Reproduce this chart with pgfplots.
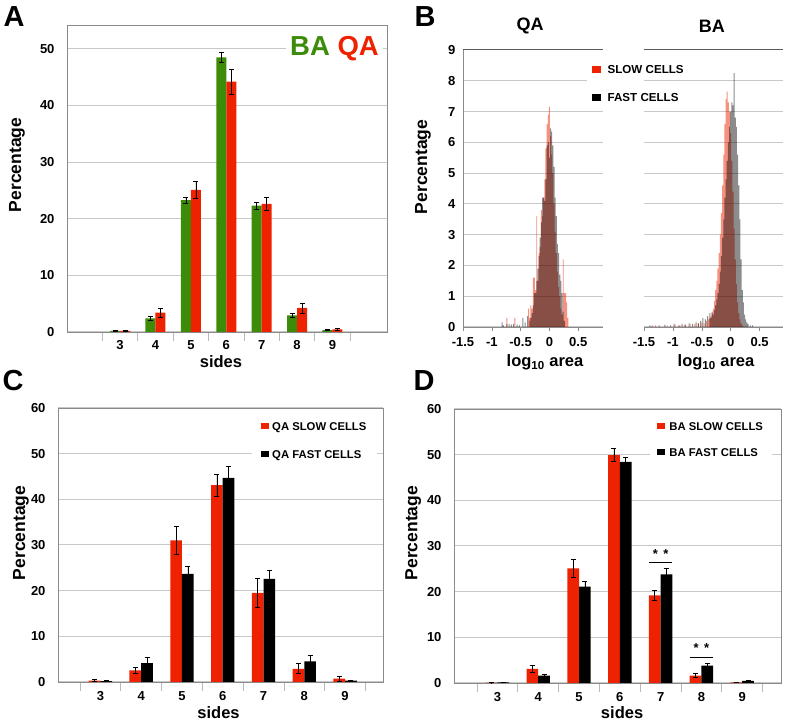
\documentclass[border=0pt]{standalone}
\usepackage{pgfplots}
\usepackage{pgfplotstable}
\usepackage{fontspec}
\pgfplotsset{compat=1.18}
\setmainfont{Liberation Sans}
\definecolor{BarRed}{HTML}{EE2200}
\definecolor{BarGreen}{HTML}{3C8C0A}
\definecolor{GridGray}{HTML}{C8C8C8}
\definecolor{FrameGray}{HTML}{8A8A8A}
\definecolor{TopGray}{HTML}{5A5A5A}
\newcommand{\fs}[1]{\fontsize{#1}{#1}\selectfont\bfseries}

% A: polygon sides, BA vs QA
\pgfplotstableread{
side ba baerr qa qaerr
3 0.20 0.05 0.20 0.05
4 2.40 0.30 3.40 0.80
5 23.3 0.55 25.1 1.45
6 48.5 0.95 44.2 2.20
7 22.3 0.60 22.6 1.20
8 2.95 0.30 4.25 0.90
9 0.35 0.10 0.47 0.20
}\sidesA
% C: QA slow / fast
\pgfplotstableread{
side slow slowerr fast fasterr
3 0.30 0.20 0.20 0.15
4 2.55 0.60 4.15 1.30
5 31.0 3.00 23.7 1.65
6 43.1 2.40 44.7 2.45
7 19.5 3.20 22.6 1.75
8 2.90 1.10 4.50 1.25
9 0.75 0.60 0.30 0.10
}\sidesC
% D: BA slow / fast
\pgfplotstableread{
side slow slowerr fast fasterr
3 0.10 0.05 0.15 0.05
4 3.10 0.70 1.60 0.40
5 25.1 1.90 21.1 1.20
6 49.9 1.45 48.4 1.10
7 19.2 1.15 23.8 1.35
8 1.60 0.45 3.80 0.55
9 0.15 0.05 0.45 0.15
}\sidesD
% B: log10 area histograms
\pgfplotstableread{
x y
-0.74 0.30
-0.60 0.30
-0.36 0.60
-0.34 0.30
-0.32 0.70
-0.30 0.60
-0.28 1.60
-0.26 1.60
-0.24 1.20
-0.22 3.60
-0.20 1.50
-0.18 2.40
-0.16 2.60
-0.14 3.80
-0.12 3.60
-0.10 4.20
-0.08 4.80
-0.06 5.80
-0.04 6.60
-0.02 6.90
0.00 7.15
0.02 6.20
0.04 5.60
0.06 5.00
0.08 4.00
0.10 3.10
0.12 2.40
0.14 1.80
0.16 1.30
0.18 1.00
0.20 0.60
0.22 0.40
0.24 2.20
0.26 1.10
0.28 1.10
0.30 0.80
0.32 0.30
}\qaslow
\pgfplotstableread{
x y
-0.82 0.15
-0.80 0.05
-0.74 0.10
-0.70 0.10
-0.66 0.08
-0.62 0.10
-0.56 0.08
-0.52 0.05
-0.46 0.30
-0.42 0.15
-0.38 0.35
-0.34 0.20
-0.32 0.30
-0.30 0.45
-0.28 0.70
-0.26 1.10
-0.24 1.10
-0.22 1.50
-0.20 1.90
-0.18 2.30
-0.16 2.90
-0.14 3.40
-0.12 4.20
-0.10 4.20
-0.08 4.10
-0.06 4.80
-0.04 5.90
-0.02 6.00
0.00 5.50
0.02 6.45
0.04 6.35
0.06 5.90
0.08 5.20
0.10 4.20
0.12 3.60
0.14 2.70
0.16 2.40
0.18 1.70
0.20 1.50
0.22 1.10
0.24 0.50
0.26 0.20
}\qafast
\pgfplotstableread{
x y
-1.30 0.05
-1.10 0.05
-0.96 0.08
-0.90 0.05
-0.80 0.08
-0.70 0.10
-0.62 0.10
-0.56 0.12
-0.50 0.15
-0.46 0.12
-0.42 0.20
-0.38 0.25
-0.36 0.30
-0.34 0.35
-0.32 0.45
-0.30 0.60
-0.28 0.85
-0.26 1.20
-0.24 1.50
-0.22 1.90
-0.20 2.40
-0.18 3.00
-0.16 3.70
-0.14 4.60
-0.12 5.60
-0.10 6.60
-0.08 7.40
-0.06 7.65
-0.04 7.30
-0.02 7.00
0.00 6.30
0.02 5.40
0.04 4.40
0.06 3.20
0.08 2.20
0.10 1.40
0.12 0.80
0.14 0.45
0.16 0.25
0.18 0.12
0.20 0.05
}\baslow
\pgfplotstableread{
x y
-1.40 0.05
-1.36 0.05
-1.24 0.05
-1.14 0.08
-1.04 0.05
-0.98 0.10
-0.88 0.05
-0.84 0.10
-0.78 0.08
-0.72 0.12
-0.66 0.10
-0.60 0.15
-0.56 0.12
-0.52 0.20
-0.48 0.30
-0.44 0.25
-0.40 0.35
-0.36 0.45
-0.34 0.30
-0.32 0.50
-0.30 0.40
-0.28 0.55
-0.26 0.70
-0.24 0.90
-0.22 1.10
-0.20 1.40
-0.18 1.80
-0.16 2.30
-0.14 2.90
-0.12 3.50
-0.10 4.20
-0.08 4.80
-0.06 5.40
-0.04 6.00
-0.02 6.50
0.00 7.00
0.02 7.30
0.04 7.20
0.06 8.25
0.08 6.80
0.10 6.50
0.12 5.60
0.14 4.60
0.16 3.50
0.18 2.20
0.20 1.20
0.22 0.80
0.24 0.40
0.26 0.25
0.28 0.15
0.30 0.10
0.34 0.05
0.38 0.05
}\bafast

\pgfplotsset{
  sq/.style={legend image code/.code={\fill[#1] (0pt,-3pt) rectangle (8pt,3.5pt);}},
  base/.style={
    scale only axis, anchor=south west, clip=false,
    ymin=0,
    ymajorgrids, grid style={GridGray, line width=1pt},
    axis line style={FrameGray, line width=0.8pt},
    tick label style={font=\fs{13}},
    xlabel style={anchor=center, font=\fs{16.5}},
    ylabel style={anchor=center, font=\fs{17.5}},
    /pgf/number format/assume math mode=true,
    ytick style={draw=none}, ytick pos=left,
    legend cell align=left,
    legend style={draw=none, fill=white, inner ysep=4pt,
      nodes={inner sep=2pt, text height=8.3pt, text depth=0pt}},
  },
  sides/.style={
    base, ybar=0pt,
    xtick={2.5,3.5,...,9.5}, xticklabels={},
    xtick pos=left, tick align=outside, major tick length=9pt,
    xtick style={GridGray!80!gray, line width=0.8pt},
    extra x ticks={3,...,9},
    extra x tick style={major tick length=0pt, xtick style={draw=none}},
    xlabel={sides}, ylabel={Percentage},
    error bars/y dir=both, error bars/y explicit,
    error bars/error bar style={black, line width=0.6pt},
    error bars/error mark options={rotate=90, black, mark size=2.5pt, line width=0.6pt},
  },
  hist/.style={
    base, ymax=9, ytick={0,...,9}, xmin=-1.5,
    xtick={-1.5,-1,-0.5,0,0.5},
    axis x line*=bottom, axis y line*=left,
    tick align=outside, major tick length=4pt,
    xtick style={FrameGray, line width=0.6pt},
    xticklabel style={yshift=-3pt},
    xlabel={log\textsubscript{10} area},
    title style={font=\fs{18}, anchor=center},
  },
  slowbar/.style={ybar, bar width=0.017, bar shift=0pt, fill=BarRed, fill opacity=0.5, draw=none, forget plot},
  fastbar/.style={ybar, bar width=0.017, bar shift=0pt, fill=black, fill opacity=0.45, draw=none, forget plot},
}

\begin{document}
\begin{tikzpicture}
\useasboundingbox (0pt,0pt) rectangle (787pt,722pt);

% ---- A ----
\begin{axis}[sides, at={(67pt,390pt)}, width=320pt, height=307pt,
  xmin=1.5, xmax=10.54, ymax=54.2, ytick={0,10,...,50}, bar width=10pt,
  xticklabel style={yshift=-5pt},
  xlabel style={at={(axis description cs:0.481,-0.098)}},
  ylabel style={at={(axis description cs:-0.156,0.544)}}]
\addplot[fill=BarGreen, draw=none] table[x=side, y=ba, y error=baerr] {\sidesA};
\addplot[fill=BarRed, draw=none] table[x=side, y=qa, y error=qaerr] {\sidesA};
\node[fill=white, anchor=east, inner xsep=4pt, inner ysep=3pt, font=\fs{27.5}]
  at (rel axis cs:0.9875,0.922) {\textcolor{BarGreen}{BA} \textcolor{BarRed}{QA}};
\end{axis}

% ---- B, QA ----
\begin{axis}[hist, at={(463pt,395pt)}, width=140pt, height=277pt, xmax=0.93,
  ylabel={Percentage}, title={QA},
  title style={at={(axis description cs:0.479,1.065)}},
  xlabel style={at={(axis description cs:0.586,-0.128)}},
  ylabel style={at={(axis description cs:-0.286,0.578)}},
  legend style={at={(axis description cs:0.886,0.968)}, anchor=north west,
    inner xsep=5pt, column sep=5pt, row sep=15.7pt, font=\fs{11.6}}]
\addplot[slowbar] table[x=x, y=y] {\qaslow};
\addplot[fastbar] table[x=x, y=y] {\qafast};
\draw[TopGray, line width=1pt] (rel axis cs:0,1) -- (rel axis cs:1,1);
\addlegendimage{sq=BarRed}
\addlegendentry{SLOW CELLS}
\addlegendimage{sq=black}
\addlegendentry{FAST CELLS}
\end{axis}

% ---- B, BA ----
\begin{axis}[hist, at={(644pt,395pt)}, width=139pt, height=277pt, xmax=0.905,
  yticklabels={}, y axis line style={draw=none}, title={BA},
  title style={at={(axis description cs:0.489,1.065)}},
  xlabel style={at={(axis description cs:0.518,-0.128)}}]
\addplot[slowbar] table[x=x, y=y] {\baslow};
\addplot[fastbar] table[x=x, y=y] {\bafast};
\draw[TopGray, line width=1pt] (rel axis cs:0,1) -- (rel axis cs:1,1);
\end{axis}

% ---- C ----
\begin{axis}[sides, at={(58pt,40pt)}, width=325pt, height=274pt,
  xmin=1.96, xmax=9.93, ymax=60, ytick={0,10,...,60}, bar width=11.7pt,
  xticklabel style={yshift=-6pt},
  xlabel style={at={(axis description cs:0.494,-0.113)}},
  ylabel style={at={(axis description cs:-0.114,0.544)}},
  legend style={at={(axis description cs:0.597,0.971)}, anchor=north west,
    inner xsep=9pt, column sep=1pt, row sep=15.7pt, font=\fs{11.3}}]
\addplot[fill=BarRed, draw=none, sq=BarRed] table[x=side, y=slow, y error=slowerr] {\sidesC};
\addlegendentry{QA SLOW CELLS}
\addplot[fill=black, draw=none, sq=black] table[x=side, y=fast, y error=fasterr] {\sidesC};
\addlegendentry{QA FAST CELLS}
\end{axis}

% ---- D ----
\begin{axis}[sides, at={(454pt,39pt)}, width=327pt, height=274pt,
  xmin=1.936, xmax=9.95, ymax=60, ytick={0,10,...,60}, bar width=11.7pt,
  xticklabel style={yshift=-6pt},
  xlabel style={at={(axis description cs:0.514,-0.109)}},
  ylabel style={at={(axis description cs:-0.125,0.547)}},
  legend style={at={(axis description cs:0.599,0.975)}, anchor=north west,
    inner xsep=6.7pt, column sep=2.7pt, row sep=13.7pt, font=\fs{11.3}}]
\addplot[fill=BarRed, draw=none, sq=BarRed] table[x=side, y=slow, y error=slowerr] {\sidesD};
\addlegendentry{BA SLOW CELLS}
\addplot[fill=black, draw=none, sq=black] table[x=side, y=fast, y error=fasterr] {\sidesD};
\addlegendentry{BA FAST CELLS}
\draw[black, line width=0.8pt] (axis cs:6.71,26.3) -- (axis cs:7.29,26.3);
\node[font=\fs{13}] at (axis cs:7,28.2) {*\hspace{5.5pt}*};
\draw[black, line width=0.8pt] (axis cs:7.71,5.5) -- (axis cs:8.29,5.5);
\node[font=\fs{13}] at (axis cs:8,7.6) {*\hspace{5.5pt}*};
\end{axis}

% panel letters
\node[font=\fs{29}] at (14pt,705pt) {A};
\node[font=\fs{29}] at (425pt,705pt) {B};
\node[font=\fs{29}] at (13pt,341pt) {C};
\node[font=\fs{29}] at (424pt,341pt) {D};
\end{tikzpicture}
\end{document}
